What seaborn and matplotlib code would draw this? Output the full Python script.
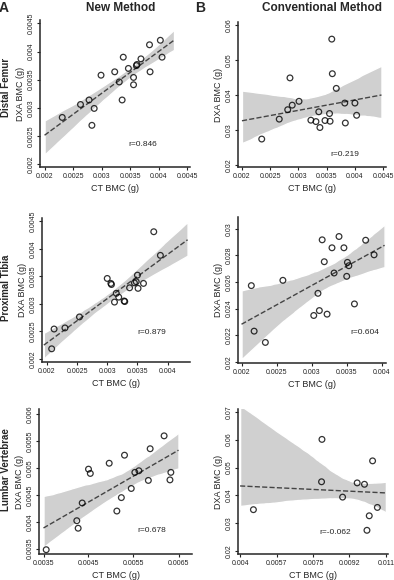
import numpy as np
import pandas as pd
import matplotlib
matplotlib.use("Agg")
import matplotlib.pyplot as plt
import seaborn as sns

# CT BMC vs DXA BMC (g)
femur_ct_new = [0.00231, 0.00263, 0.00278, 0.00283, 0.00287, 0.00299, 0.00323, 0.00331, 0.00336, 0.00338,
                0.00347, 0.00356, 0.00356, 0.00361, 0.00362, 0.00369, 0.00384, 0.00385, 0.00403, 0.00406]
femur_dxa_new = [0.00283, 0.00306, 0.00314, 0.00269, 0.00299, 0.00358, 0.00364, 0.00346, 0.00314, 0.00390,
                 0.00370, 0.00354, 0.00341, 0.00375, 0.00377, 0.00387, 0.00412, 0.00364, 0.00420, 0.00390]

femur_ct_conv = [0.00235, 0.00266, 0.00281, 0.00285, 0.00289, 0.00301, 0.00322, 0.00331, 0.00336, 0.00338,
                 0.00347, 0.00355, 0.00356, 0.00359, 0.00360, 0.00367, 0.00382, 0.00383, 0.00400, 0.00403]
femur_dxa_conv = [0.0275, 0.0332, 0.0359, 0.0450, 0.0372, 0.0383, 0.0329, 0.0325, 0.0353, 0.0308,
                  0.0328, 0.0348, 0.0326, 0.0561, 0.0462, 0.0420, 0.0378, 0.0321, 0.0378, 0.0343]

tibia_ct_new = [0.00208, 0.00212, 0.00230, 0.00254, 0.00300, 0.00306, 0.00307, 0.00312, 0.00315, 0.00319,
                0.00328, 0.00329, 0.00337, 0.00345, 0.00348, 0.00350, 0.00351, 0.00360, 0.00377, 0.00388]
tibia_dxa_new = [0.00218, 0.00254, 0.00256, 0.00276, 0.00346, 0.00337, 0.00335, 0.00303, 0.00319, 0.00312,
                 0.00305, 0.00304, 0.00329, 0.00338, 0.00340, 0.00352, 0.00328, 0.00337, 0.00431, 0.00388]

tibia_ct_conv = [0.00214, 0.00218, 0.00234, 0.00259, 0.00303, 0.00309, 0.00311, 0.00315, 0.00318, 0.00322,
                 0.00329, 0.00332, 0.00339, 0.00346, 0.00350, 0.00351, 0.00353, 0.00361, 0.00377, 0.00389]
tibia_dxa_conv = [0.02573, 0.02230, 0.02145, 0.02613, 0.02348, 0.02515, 0.02385, 0.02918, 0.02753, 0.02358,
                  0.02858, 0.02668, 0.02943, 0.02858, 0.02643, 0.02748, 0.02723, 0.02435, 0.02915, 0.02805]

lumbar_ct_new = [0.00356, 0.00424, 0.00427, 0.00436, 0.00450, 0.00454, 0.00496, 0.00513, 0.00523, 0.00530,
                 0.00545, 0.00553, 0.00562, 0.00583, 0.00587, 0.00618, 0.00631, 0.00633]
lumbar_dxa_new = [0.00348, 0.00402, 0.00388, 0.00435, 0.00498, 0.00490, 0.00509, 0.00420, 0.00445, 0.00524,
                  0.00462, 0.00492, 0.00495, 0.00477, 0.00536, 0.00560, 0.00478, 0.00492]

lumbar_ct_conv = [0.00464, 0.00791, 0.00793, 0.00892, 0.00962, 0.00997, 0.01009, 0.01020, 0.01036, 0.01059]
lumbar_dxa_conv = [0.0349, 0.0449, 0.0601, 0.0394, 0.0445, 0.0440, 0.0275, 0.0327, 0.0524, 0.0357]

# tick labels
femur_xticks = ["0.002", "0.0025", "0.003", "0.0035", "0.004", "0.0045"]
femur_new_yticks = ["0.002", "0.0025", "0.003", "0.0035", "0.004", "0.0045"]
femur_conv_yticks = ["0.02", "0.03", "0.04", "0.05", "0.06"]
tibia_xticks = ["0.002", "0.0025", "0.003", "0.0035", "0.004"]
tibia_new_yticks = ["0.002", "0.0025", "0.003", "0.0035", "0.004", "0.0045"]
tibia_conv_yticks = ["0.02", "0.022", "0.024", "0.026", "0.028", "0.03"]
lumbar_new_xticks = ["0.0035", "0.0045", "0.0055", "0.0065"]
lumbar_new_yticks = ["0.0035", "0.004", "0.0045", "0.005", "0.0055", "0.006"]
lumbar_conv_xtick_pos = [0.004, 0.00575, 0.0075, 0.00925, 0.011]
lumbar_conv_xticks = ["0.004", "0.0057", "0.0075", "0.0092", "0.011"]
lumbar_conv_yticks = ["0.02", "0.03", "0.04", "0.05", "0.06", "0.07"]

r_labels = ["r=0.846", "r=0.219", "r=0.879", "r=0.604", "r=0.678", "r=-0.062"]
row_names = ["Distal Femur", "Proximal Tibia", "Lumbar Vertebrae"]

sns.set_style("ticks")
plt.rcParams["font.family"] = ["Liberation Sans", "DejaVu Sans"]

W, H = 394, 580
fig = plt.figure(figsize=(W / 100, H / 100), dpi=100)


def box(l, t, r, b):
    return [l / W, 1 - b / H, (r - l) / W, (b - t) / H]


panels = [
    dict(x=femur_ct_new, y=femur_dxa_new, rect=box(40, 20, 190, 167), line=(0.002, 0.00427),
         xlim=(0.00192, 0.00455), ylim=(0.00195, 0.00456),
         xt=[float(t) for t in femur_xticks], xl=femur_xticks,
         yl=femur_new_yticks, rpos=(143, 145), ci=95),
    dict(x=femur_ct_conv, y=femur_dxa_conv, rect=box(238, 22, 386, 167), line=(0.002, 0.00447),
         xlim=(0.00193, 0.00455), ylim=(0.0195, 0.061),
         xt=[float(t) for t in femur_xticks], xl=femur_xticks,
         yl=femur_conv_yticks, rpos=(345, 155), ci=95),
    dict(x=tibia_ct_new, y=tibia_dxa_new, rect=box(42, 218, 190, 362), line=(0.00195, 0.00433),
         xlim=(0.00192, 0.00437), ylim=(0.00194, 0.00456),
         xt=[float(t) for t in tibia_xticks], xl=tibia_xticks,
         yl=tibia_new_yticks, rpos=(152, 333), ci=95),
    dict(x=tibia_ct_conv, y=tibia_dxa_conv, rect=box(238, 217, 386, 363), line=(0.002, 0.00404),
         xlim=(0.00195, 0.00406), ylim=(0.0199, 0.0309),
         xt=[float(t) for t in tibia_xticks], xl=tibia_xticks,
         yl=tibia_conv_yticks, rpos=(365, 333), ci=95),
    dict(x=lumbar_ct_new, y=lumbar_dxa_new, rect=box(39, 409, 192, 554), line=(0.0035, 0.0065),
         xlim=(0.0034, 0.0068), ylim=(0.0034, 0.0061),
         xt=[float(t) for t in lumbar_new_xticks], xl=lumbar_new_xticks,
         yl=lumbar_new_yticks, rpos=(152, 530), ci=95),
    dict(x=lumbar_ct_conv, y=lumbar_dxa_conv, rect=box(238, 409, 388, 554), line=(0.004, 0.011),
         xlim=(0.0039, 0.0111), ylim=(0.019, 0.071),
         xt=lumbar_conv_xtick_pos, xl=lumbar_conv_xticks,
         yl=lumbar_conv_yticks, rpos=(335, 532), ci=70),
]

for i, p in enumerate(panels):
    ax = fig.add_axes(p["rect"])
    df = pd.DataFrame({"ct": p["x"], "dxa": p["y"]})
    # line/band span is taken from the current xlim when truncate=False
    ax.set_xlim(*p["line"])
    sns.regplot(data=df, x="ct", y="dxa", ax=ax, truncate=False, seed=1, ci=p["ci"],
                scatter_kws=dict(s=17, facecolors="none", edgecolors="black",
                                 linewidths=0.9, zorder=3, color="black"),
                line_kws=dict(color="#444444", ls="--", lw=1.0, zorder=2))
    for coll in ax.collections:
        if isinstance(coll, matplotlib.collections.PolyCollection):
            coll.set_facecolor("#d0d0d0")
            coll.set_alpha(1)
            coll.set_zorder(1)
    ax.set_xlim(*p["xlim"])
    ax.set_ylim(*p["ylim"])
    ax.set_xticks(p["xt"])
    ax.set_xticklabels(p["xl"], fontsize=5)
    ax.set_yticks([float(t) for t in p["yl"]])
    ax.set_yticklabels(p["yl"], fontsize=5, rotation=90, va="center")
    ax.tick_params(length=2.5, width=0.8, pad=1.5, colors="#222222")
    ax.set_xlabel("CT BMC (g)", fontsize=6.5, labelpad=3)
    ax.set_ylabel("DXA BMC (g)", fontsize=6.5, labelpad=2)
    for s in ["left", "bottom"]:
        ax.spines[s].set_linewidth(1.1)
    sns.despine(ax=ax)
    fig.text(p["rpos"][0] / W, 1 - p["rpos"][1] / H, r_labels[i], fontsize=6,
             ha="center", va="center")

# column headers and row names
fig.text(4 / W, 1 - 8 / H, "A", fontsize=10, weight="bold", ha="center", va="center")
fig.text(121 / W, 1 - 8 / H, "New Method", fontsize=8.5, weight="bold", ha="center", va="center")
fig.text(200 / W, 1 - 8 / H, "B", fontsize=10, weight="bold", ha="center", va="center")
fig.text(322 / W, 1 - 8 / H, "Conventional Method", fontsize=8.5, weight="bold", ha="center", va="center")
for name, yc in zip(row_names, [87, 288, 470]):
    fig.text(6 / W, 1 - yc / H, name, fontsize=7, weight="bold", rotation=90,
             ha="center", va="center")

fig.savefig("out.png", dpi=100)
